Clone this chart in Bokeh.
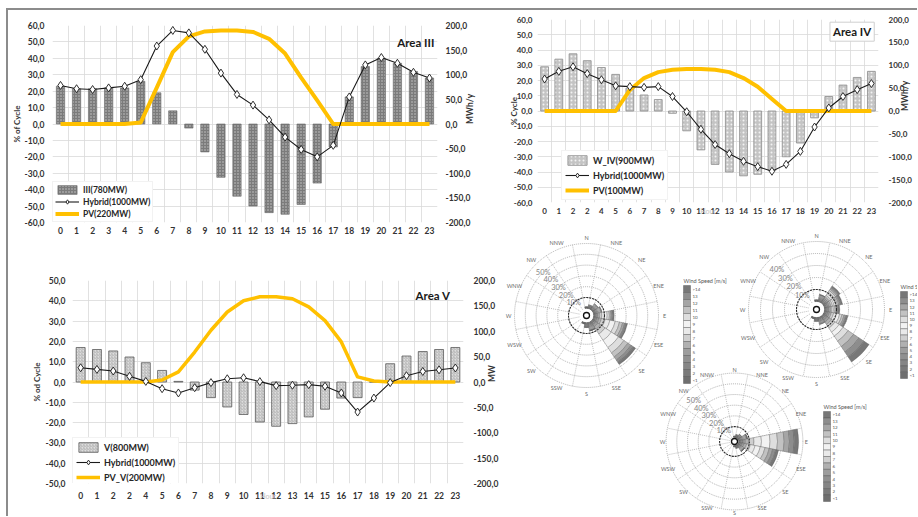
import math
from bokeh.plotting import figure
from bokeh.models import Range1d, LinearAxis, FixedTicker, Legend, LegendItem, Label
from bokeh.layouts import row, column
from bokeh.embed import file_html
from bokeh.resources import INLINE
from bokeh.core.properties import value

# ---------------- data ----------------
HOURS = [0, 1, 2, 3, 4, 5, 6, 7, 8, 9, 10, 11, 12, 13, 14, 15, 16, 17, 18, 19, 20, 21, 22, 23]
HOUR_LABELS_III = ["0", "1", "2", "3", "4", "5", "6", "7", "8", "9", "10", "11", "12", "13",
                   "14", "15", "16", "17", "18", "19", "20", "21", "22", "23"]
HOUR_LABELS_IV = ["0", "1", "2", "2", "4", "5", "6", "7", "8", "9", "10", "11", "12", "13",
                  "14", "15", "16", "17", "18", "19", "20", "21", "22", "23"]
HOUR_LABELS_V = ["0", "1", "2", "2", "4", "5", "6", "7", "8", "9", "10", "11", "12", "13",
                 "14", "15", "16", "17", "18", "19", "20", "21", "22", "23"]

PCT60_TICKS = [-60, -50, -40, -30, -20, -10, 0, 10, 20, 30, 40, 50, 60]
PCT60_LABELS = ["-60,0", "-50,0", "-40,0", "-30,0", "-20,0", "-10,0", "0,0",
                "10,0", "20,0", "30,0", "40,0", "50,0", "60,0"]
PCT50_TICKS = [-50, -40, -30, -20, -10, 0, 10, 20, 30, 40, 50]
PCT50_LABELS = ["-50,0", "-40,0", "-30,0", "-20,0", "-10,0", "0,0",
                "10,0", "20,0", "30,0", "40,0", "50,0"]
MW_TICKS = [-200, -150, -100, -50, 0, 50, 100, 150, 200]
MW_LABELS = ["-200,0", "-150,0", "-100,0", "-50,0", "0,0", "50,0", "100,0", "150,0", "200,0"]

III_WIND = [23, 21.5, 21.5, 22, 22, 26, 19, 8, -2.5, -17, -32.5, -44, -50, -54, -55, -49,
            -36, -14, 16.5, 35, 40, 37, 32, 28]
III_HYBRID = [23.5, 21.5, 21, 22, 23, 27, 47.5, 57, 55.5, 45.5, 31, 18, 11.5, 2.5, -8, -15.5,
              -20, -13, 16.5, 36, 40.5, 37, 31.5, 28]
III_PV = [0, 0, 0, 0, 0, 3, 74, 146, 178, 188, 190, 190, 187, 173, 143, 94, 48, 0, 0, 0, 0, 0, 0, 0]

IV_WIND = [29, 34, 37.5, 33, 28.5, 24, 15, 10.5, 7.5, -1.5, -13, -25.5, -35, -40, -42.5, -41.5,
           -39, -30, -21, -4.5, 9.5, 17, 22, 26]
IV_HYBRID = [21, 26, 29, 24.5, 20.5, 16.5, 16, 15.5, 16, 9.5, -0.5, -12, -22, -28, -33, -36.5,
             -39.5, -35, -26.5, -10.5, 2, 9.5, 14, 18]
IV_PV = [0, 0, 0, 0, 0, 0, 46, 72, 85, 90, 92, 92, 90, 85, 72, 53, 26, 0, 0, 0, 0, 0, 0, 0]

V_WIND = [17, 16, 15.3, 12.3, 9.5, 5.7, 0.3, -4, -7.7, -12.3, -16, -19.7, -21.8, -20.5, -17.2,
          -13.4, -7.9, -7.7, 0, 9, 12.8, 15, 16, 17]
V_HYBRID = [7, 6.2, 5.4, 2.8, 0.3, -3.3, -5.4, -2.8, -0.3, 1.6, 2.1, 0.2, -1.8, -1.6, -1.3, -2.1,
            -5.4, -14.8, -7.9, -0.3, 3.1, 5.2, 6, 6.9]
V_PV = [0, 0, 0, 0, 0, 4, 20, 59, 102, 138, 160, 168, 168, 164, 148, 121, 79, 10, 2, 0, 0, 0, 0, 0]

# wind roses: frequency (%) per speed bin (<1 ... >14) per direction
DIRECTIONS = ["N", "NNE", "NE", "ENE", "E", "ESE", "SE", "SSE",
              "S", "SSW", "SW", "WSW", "W", "WNW", "NW", "NNW"]
SPEED_LABELS = [">14", "13", "12", "11", "10", "9", "8", "7", "6", "5", "4", "3", "2", "<1"]
SPEED_SHADES = ["#6f6f6f", "#7a7a7a", "#858585", "#909090", "#9d9d9d", "#b0b0b0", "#cfcfcf",
                "#e9e9e9", "#f2f2f2", "#dedede", "#c2c2c2", "#a5a5a5", "#8d8d8d", "#777777"]

ROSE1_BINS = {
    "N": [0.3, 0.3, 0.3, 0.2, 0.2, 0.1, 0, 0, 0, 0, 0, 0, 0, 0],
    "NNE": [0.4, 0.5, 0.6, 0.6, 0.5, 0.4, 0.3, 0.2, 0, 0, 0, 0, 0, 0],
    "NE": [0.4, 0.6, 0.8, 0.9, 0.9, 0.8, 0.7, 0.5, 0.4, 0.3, 0.2, 0, 0, 0],
    "ENE": [0.4, 0.6, 0.8, 0.9, 1.0, 1.0, 0.9, 0.8, 0.6, 0.5, 0.3, 0.2, 0, 0],
    "E": [0.4, 0.6, 0.8, 1.0, 1.2, 1.5, 2.0, 2.5, 2.5, 2.0, 1.5, 1.2, 1.0, 0.8],
    "ESE": [0.5, 0.7, 1.0, 1.3, 1.8, 2.2, 3.5, 4.5, 5.0, 4.0, 3.0, 2.0, 1.5, 1.0],
    "SE": [0.5, 0.8, 1.0, 1.5, 2.2, 3.0, 5.0, 7.0, 8.0, 6.0, 4.5, 3.5, 2.5, 2.5],
    "SSE": [0.5, 0.7, 0.9, 1.0, 1.0, 0.9, 0.8, 0.6, 0.5, 0.4, 0.3, 0.2, 0.1, 0.1],
    "S": [0.4, 0.6, 0.7, 0.7, 0.6, 0.5, 0.4, 0.3, 0.2, 0.1, 0, 0, 0, 0],
    "SSW": [0.3, 0.3, 0.3, 0.2, 0.2, 0.1, 0, 0, 0, 0, 0, 0, 0, 0],
}
ROSE2_BINS = {
    "N": [0.3, 0.3, 0.3, 0.2, 0.2, 0.1, 0, 0, 0, 0, 0, 0, 0, 0],
    "NNE": [0.4, 0.6, 0.7, 0.8, 0.8, 0.7, 0.6, 0.5, 0.4, 0.3, 0.2, 0.1, 0, 0],
    "NE": [0.5, 0.8, 1.0, 1.2, 1.3, 1.4, 1.5, 1.6, 1.6, 1.5, 1.4, 1.2, 1.0, 1.0],
    "ENE": [0.5, 0.7, 0.9, 1.1, 1.2, 1.3, 1.4, 1.4, 1.4, 1.3, 1.2, 1.1, 1.0, 1.0],
    "E": [0.4, 0.6, 0.8, 1.0, 1.1, 1.2, 1.2, 1.2, 1.1, 1.0, 0.9, 0.8, 0.7, 0.7],
    "ESE": [0.5, 0.7, 0.9, 1.1, 1.3, 1.5, 2.0, 2.5, 2.5, 2.0, 1.8, 1.4, 1.0, 0.8],
    "SE": [0.5, 0.8, 1.2, 1.5, 2.0, 2.5, 3.5, 4.0, 4.0, 5.0, 5.5, 5.5, 5.0, 5.0],
    "SSE": [0.4, 0.6, 0.8, 0.9, 0.9, 0.8, 0.6, 0.4, 0.3, 0.2, 0.1, 0, 0, 0],
    "S": [0.3, 0.5, 0.6, 0.6, 0.5, 0.4, 0.3, 0.2, 0, 0, 0, 0, 0, 0],
    "SSW": [0.3, 0.3, 0.3, 0.2, 0.2, 0.1, 0, 0, 0, 0, 0, 0, 0, 0],
}
ROSE3_BINS = {
    "N": [0.3, 0.3, 0.2, 0.2, 0.1, 0, 0, 0, 0, 0, 0, 0, 0, 0],
    "NNE": [0.3, 0.4, 0.5, 0.5, 0.4, 0.3, 0.2, 0.1, 0, 0, 0, 0, 0, 0],
    "NE": [0.4, 0.5, 0.6, 0.7, 0.6, 0.5, 0.4, 0.3, 0.2, 0.1, 0, 0, 0, 0],
    "ENE": [0.5, 0.7, 0.9, 1.0, 1.0, 0.9, 0.8, 0.7, 0.6, 0.5, 0.4, 0.3, 0.2, 0.1],
    "E": [0.5, 0.8, 1.2, 1.6, 2.2, 3.0, 5.0, 7.0, 8.0, 7.0, 6.2, 5.0, 4.5, 4.0],
    "ESE": [0.5, 0.7, 1.0, 1.3, 1.8, 2.4, 3.5, 4.5, 5.0, 4.5, 4.0, 3.3, 3.0, 2.5],
    "SE": [0.5, 0.6, 0.8, 0.9, 0.9, 0.8, 0.7, 0.6, 0.5, 0.4, 0.3, 0.2, 0.1, 0.1],
    "SSE": [0.3, 0.4, 0.5, 0.5, 0.4, 0.3, 0.2, 0.1, 0, 0, 0, 0, 0, 0],
    "S": [0.2, 0.3, 0.3, 0.2, 0.1, 0, 0, 0, 0, 0, 0, 0, 0, 0],
}
ROSE1_RINGS = [10, 20, 30, 40, 50, 60]
ROSE2_RINGS = [10, 20, 30, 40, 50]
ROSE3_RINGS = [10, 20, 30, 40, 50, 60]
ROSE1_RING_LABELS = ["10%", "20%", "30%", "40%", "50%"]
ROSE2_RING_LABELS = ["10%", "20%", "30%", "40%"]
ROSE3_RING_LABELS = ["10%", "20%", "30%", "40%", "50%"]
WIND_TITLE = "Wind Speed [m/s]"

# ---------------- styling helpers ----------------
FONT = "Lato"
TXT = "#333333"
GRID = "#d9d9d9"
PV_COLOR = "#FFC000"


def style_axis(ax, size, standoff):
    ax.axis_line_color = None
    ax.major_tick_line_color = None
    ax.minor_tick_line_color = None
    ax.major_tick_out = 0
    ax.major_tick_in = 0
    ax.minor_tick_out = 0
    ax.minor_tick_in = 0
    ax.major_label_text_font = FONT
    ax.major_label_text_font_style = "bold"
    ax.major_label_text_font_size = size
    ax.major_label_text_color = TXT
    ax.major_label_standoff = standoff
    ax.axis_label_text_font = FONT
    ax.axis_label_text_font_style = "bold"
    ax.axis_label_text_color = TXT


def build_area(w, h, borders, ylim, yticks, ylabels, hour_labels, wind, hybrid, pv,
               bar_kw, leg_labels, leg_loc, leg_sizes, title, title_xy, title_box,
               left_title, left_off, right_title, right_off, tick_size, lstand, rstand,
               xstand, pv_width, ghost=None):
    p = figure(width=w, height=h, x_range=Range1d(-0.5, 23.5), y_range=Range1d(ylim[0], ylim[1]),
               output_backend="svg", toolbar_location=None,
               min_border_left=borders[0], min_border_right=borders[1],
               min_border_top=borders[2], min_border_bottom=borders[3])
    p.outline_line_color = None
    p.background_fill_color = "white"
    p.border_fill_color = "white"
    p.extra_y_ranges = {"mw": Range1d(-200, 200)}

    p.xgrid.ticker = FixedTicker(ticks=[x - 0.5 for x in HOURS] + [HOURS[-1] + 0.5])
    p.ygrid.ticker = FixedTicker(ticks=yticks)
    p.grid.grid_line_color = GRID
    p.grid.grid_line_width = 0.8

    p.xaxis.ticker = FixedTicker(ticks=HOURS)
    p.xaxis.major_label_overrides = {x: lab for x, lab in zip(HOURS, hour_labels)}
    p.yaxis.ticker = FixedTicker(ticks=yticks)
    p.yaxis.major_label_overrides = {t: lab for t, lab in zip(yticks, ylabels)}
    rax = LinearAxis(y_range_name="mw", ticker=FixedTicker(ticks=MW_TICKS),
                     major_label_overrides={t: lab for t, lab in zip(MW_TICKS, MW_LABELS)})
    p.add_layout(rax, "right")

    for ax in p.xaxis:
        style_axis(ax, tick_size, xstand)
    for ax in p.yaxis:
        style_axis(ax, tick_size, lstand)
    style_axis(rax, tick_size, rstand)

    ly = p.yaxis[0]
    ly.axis_label = left_title
    ly.axis_label_text_font_size = "8px"
    ly.axis_label_standoff = left_off
    rax.axis_label = right_title
    rax.axis_label_text_font_size = "8.5px"
    rax.axis_label_standoff = right_off
    rax.axis_label_orientation = math.pi / 2
    if ghost:
        xa = p.xaxis[0]
        xa.axis_label = ghost
        xa.axis_label_text_color = "#c4c4c4"
        xa.axis_label_text_font_style = "normal"
        xa.axis_label_text_font_size = "7px"
        xa.axis_label_standoff = -10

    bars = p.vbar(x=HOURS, top=wind, bottom=0, **bar_kw)
    pvr = p.line(HOURS, pv, y_range_name="mw", line_color=PV_COLOR, line_width=pv_width,
                 line_join="round")
    hl = p.line(HOURS, hybrid, line_color="#1a1a1a", line_width=1.1)
    hs = p.scatter(HOURS, hybrid, marker="diamond", size=8, fill_color="white",
                   line_color="#1a1a1a", line_width=0.9)

    legend = Legend(items=[LegendItem(label=leg_labels[0], renderers=[bars]),
                           LegendItem(label=leg_labels[1], renderers=[hl, hs]),
                           LegendItem(label=leg_labels[2], renderers=[pvr])],
                    location=leg_loc, orientation="vertical")
    legend.margin = 0
    legend.padding = leg_sizes[0]
    legend.spacing = leg_sizes[1]
    legend.glyph_height = leg_sizes[2]
    legend.label_height = leg_sizes[2]
    legend.glyph_width = 24
    legend.label_standoff = 4
    legend.label_text_font = FONT
    legend.label_text_font_style = "bold"
    legend.label_text_font_size = leg_sizes[3]
    legend.label_text_color = "#262626"
    legend.background_fill_color = "white"
    legend.background_fill_alpha = 1.0
    legend.border_line_color = "#e6e6e6"
    legend.border_line_width = 0.8
    p.add_layout(legend)

    lab = Label(x=title_xy[0], y=title_xy[1], text=title, text_align="right",
                text_baseline="middle", text_font=FONT, text_font_style="bold",
                text_font_size="11.5px", text_color="#1a1a1a")
    if title_box:
        lab.background_fill_color = "white"
        lab.border_line_color = "#cfcfcf"
        lab.padding = 3
    p.add_layout(lab)
    return p


# ---------------- layout sizes (page pixels) ----------------
ORIGIN_X = 8
ORIGIN_Y = 10
LEFT_W = 497
RIGHT_W = 412
TOP_L_H = 250
BOT_L_H = 256
TOP_R_H = 217
BOT_R_H = 289

p3 = build_area(LEFT_W, TOP_L_H, (42, 68, 15, 38), (-60, 60), PCT60_TICKS, PCT60_LABELS,
                HOUR_LABELS_III, III_WIND, III_HYBRID, III_PV,
                dict(width=0.52, fill_color="#7b7b7b", line_color="#6a6a6a", line_width=0.6,
                     hatch_pattern="dot", hatch_color="#c9c9c9", hatch_scale=3, hatch_weight=1.2),
                ["III(780MW)", "Hybrid(1000MW)", "PV(220MW)"], (0, 0), (2, 1, 11, "8.5px"),
                "Area III", (23.3, 49.6), False, "% of Cycle", 0, "MWh/y", -3, "8.5px", 8, 8, 4, 4)

p4 = build_area(RIGHT_W, TOP_R_H, (26, 35, 9, 25), (-60, 60), PCT60_TICKS, PCT60_LABELS,
                HOUR_LABELS_IV, IV_WIND, IV_HYBRID, IV_PV,
                dict(width=0.55, fill_color="#c4c4c4", line_color="#8c8c8c", line_width=0.8,
                     hatch_pattern="dot", hatch_color="#f2f2f2", hatch_scale=4, hatch_weight=1.6),
                ["W_IV(900MW)", "Hybrid(1000MW)", "PV(100MW)"], (24, 2), (3, 3, 12, "9px"),
                "Area IV", (23.2, 52), True, "% Cycle", -8, "MWh/y", -10, "8px", 5, 10, 5, 4,
                ghost="Hour")

p5 = build_area(LEFT_W, BOT_L_H, (64, 38, 20, 33), (-50, 50), PCT50_TICKS, PCT50_LABELS,
                HOUR_LABELS_V, V_WIND, V_HYBRID, V_PV,
                dict(width=0.55, fill_color="#dedede", line_color="#5a5a5a", line_width=0.8,
                     hatch_pattern="right_diagonal_line", hatch_color="#9a9a9a",
                     hatch_scale=3, hatch_weight=0.6),
                ["V(800MW)", "Hybrid(1000MW)", "PV_V(200MW)"], (0, -4), (3, 3, 12, "9px"),
                "Area V", (22.7, 42.6), False, "% od Cycle", 1, "MW", -9, "8.5px", 7, 10, 8, 3.5,
                ghost="Hour")

# ---------------- wind roses ----------------
RX0 = ORIGIN_X + LEFT_W
RY0 = ORIGIN_Y + TOP_R_H
pr = figure(width=RIGHT_W, height=BOT_R_H, x_range=Range1d(RX0, RX0 + RIGHT_W),
            y_range=Range1d(-(RY0 + BOT_R_H), -RY0), output_backend="svg",
            toolbar_location=None, min_border=0, x_axis_location=None, y_axis_location=None)
pr.grid.visible = False
pr.outline_line_color = None
pr.background_fill_color = "white"
pr.border_fill_color = "white"

ROSES = [
    dict(cx=586, cy=315, r0=7.2, k=1.08, bins=ROSE1_BINS, rings=ROSE1_RINGS,
         ring_labels=ROSE1_RING_LABELS, lab_off=6, cbx=683, cbt=285, cbb=383),
    dict(cx=816, cy=309, r0=8.0, k=1.2, bins=ROSE2_BINS, rings=ROSE2_RINGS,
         ring_labels=ROSE2_RING_LABELS, lab_off=6, cbx=900, cbt=291, cbb=378),
    dict(cx=734, cy=441, r0=4.2, k=1.07, bins=ROSE3_BINS, rings=ROSE3_RINGS,
         ring_labels=ROSE3_RING_LABELS, lab_off=3.5, cbx=823, cbt=411, cbb=501),
]

for rs in ROSES:
    cx, cy, r0, k = rs["cx"], -rs["cy"], rs["r0"], rs["k"]
    outer = r0 + k * rs["rings"][-1]
    wx, wy, ri, ro, sa, ea, fc = [], [], [], [], [], [], []
    for name, vals in rs["bins"].items():
        d = DIRECTIONS.index(name)
        ang = math.radians(90 - d * 22.5)
        cum = 0.0
        for b, v in enumerate(vals):
            if v <= 0:
                continue
            wx.append(cx); wy.append(cy)
            ri.append(r0 + k * cum)
            cum += v
            ro.append(r0 + k * cum)
            sa.append(ang - math.radians(11.25)); ea.append(ang + math.radians(11.25))
            fc.append(SPEED_SHADES[b])
    pr.circle(x=[cx] * len(rs["rings"]), y=[cy] * len(rs["rings"]),
              radius=[r0 + k * r for r in rs["rings"]], fill_color=None,
              line_color="#9c9c9c", line_dash="1 1", line_width=0.8)
    xs, ys = [], []
    for d in range(16):
        a = math.radians(90 - d * 22.5 - 11.25)
        xs.append([cx + r0 * math.cos(a), cx + outer * math.cos(a)])
        ys.append([cy + r0 * math.sin(a), cy + outer * math.sin(a)])
    pr.multi_line(xs, ys, line_color="#a4a4a4", line_dash="1 1", line_width=0.7)
    pr.annular_wedge(x=wx, y=wy, inner_radius=ri, outer_radius=ro, start_angle=sa,
                     end_angle=ea, fill_color=fc, line_color="#5a5a5a", line_width=0.35)
    pr.circle(x=[cx], y=[cy], radius=[r0 + k * rs["rings"][0]], fill_color=None,
              line_color="#2a2a2a", line_dash="2 1", line_width=1.1)
    pr.scatter([cx], [cy], marker="circle", size=6, fill_color="white",
               line_color="#111111", line_width=1.3)
    lr = outer + rs["lab_off"]
    lx = [cx + lr * math.cos(math.radians(90 - d * 22.5)) for d in range(16)]
    ly = [cy + lr * math.sin(math.radians(90 - d * 22.5)) for d in range(16)]
    pr.text(lx, ly, text=DIRECTIONS, text_align="center", text_baseline="middle",
            text_font=value(FONT), text_font_size=value("5.5px"), text_color="#6a6a6a")
    a135 = math.radians(135)
    nl = len(rs["ring_labels"])
    px = [cx + (r0 + k * r) * math.cos(a135) for r in rs["rings"][:nl]]
    py = [cy + (r0 + k * r) * math.sin(a135) for r in rs["rings"][:nl]]
    pr.text(px, py, text=rs["ring_labels"], text_align="center", text_baseline="middle",
            text_font=value(FONT), text_font_size=value("7.5px"), text_color="#858585")
    n = len(SPEED_LABELS)
    hgt = (rs["cbb"] - rs["cbt"]) / n
    tops = [-(rs["cbt"] + i * hgt) for i in range(n)]
    bots = [-(rs["cbt"] + (i + 1) * hgt) for i in range(n)]
    pr.quad(left=[rs["cbx"]] * n, right=[rs["cbx"] + 7] * n, top=tops, bottom=bots,
            fill_color=SPEED_SHADES[::-1], line_color="#4a4a4a", line_width=0.4)
    pr.text([rs["cbx"] + 9] * n, [(t + b) / 2 for t, b in zip(tops, bots)], text=SPEED_LABELS,
            text_align="left", text_baseline="middle", text_font=value(FONT),
            text_font_size=value("4.5px"), text_color="#555555")
    pr.text([rs["cbx"]], [-(rs["cbt"] - 5)], text=[WIND_TITLE], text_align="left",
            text_baseline="middle", text_font=value(FONT), text_font_size=value("5.5px"),
            text_color="#555555")

layout = row(column(row(p3), row(p5)), column(row(p4), row(pr)),
             styles={"margin-top": "8px", "margin-left": "6px",
                     "border-top": "2px solid #8c8c8c", "border-left": "2px solid #8c8c8c"})

open("out.html", "w").write(file_html(layout, INLINE))
